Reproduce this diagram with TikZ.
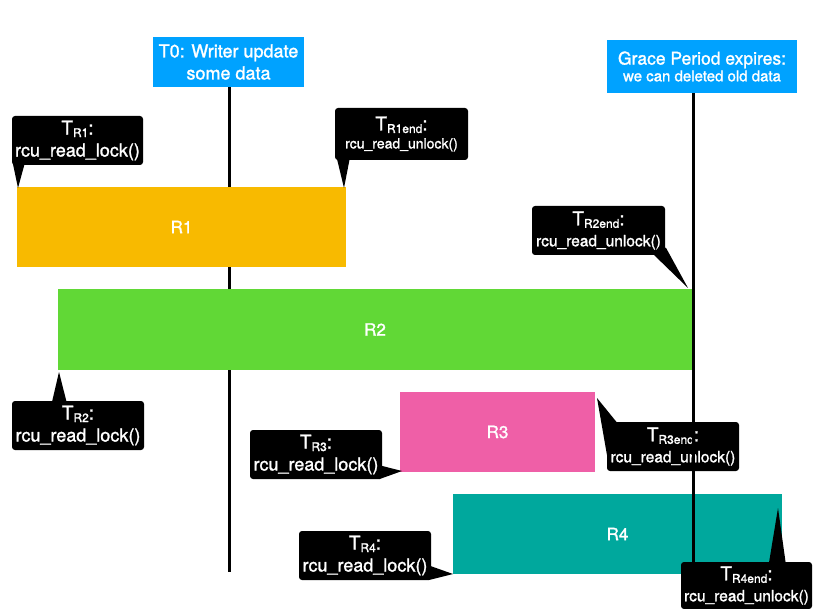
\documentclass[tikz,border=0pt]{standalone}
\usepackage{fontspec}
\setmainfont{TeX Gyre Heros}[FakeBold=1.4]
\usetikzlibrary{calc}
\definecolor{tblue}{RGB}{0,162,255}
\definecolor{rone}{RGB}{248,186,0}
\definecolor{rtwo}{RGB}{97,216,54}
\definecolor{rthree}{RGB}{239,95,167}
\definecolor{rfour}{RGB}{0,168,157}
\newcommand{\mytsub}[1]{{\fontsize{19}{19}\selectfont T}\raisebox{-2.5pt}{\fontsize{12}{12}\selectfont #1}{\fontsize{19}{19}\selectfont :}}
\tikzset{
  bar/.style={inner sep=0pt, text=white, font=\fontsize{17}{17}\selectfont},
  callout/.style={fill=black, text=white, rounded corners=3pt, inner sep=0pt, align=center},
  lockfont/.style={font=\fontsize{18}{22}\selectfont},
  unlockfont/.style={font=\fontsize{15.5}{21}\selectfont},
  topbox/.style={fill=tblue, text=white, inner sep=0pt, align=center},
  timeline/.style={line width=3pt, black},
  pointer/.style={fill=black}
}
\begin{document}
\begin{tikzpicture}[x=1pt,y=-1pt]
\useasboundingbox (0,0) rectangle (813,609);
% end points of the time lines
\coordinate (t0end) at (229,572);
\coordinate (gend) at (693,566);
% top boxes
\node[topbox, minimum width=151pt, minimum height=50pt, font=\fontsize{18}{22}\selectfont] (t0) at (228.5,62) {T0: Writer update\\some data};
\node[topbox, minimum width=190pt, minimum height=53pt] (grace) at (702,66.5) {{\fontsize{17.5}{20}\selectfont Grace Period expires:}\\[1pt]{\fontsize{15}{18}\selectfont we can deleted old data}};
% T0 line behind bars
\draw[timeline] (t0.south -| t0end) -- (t0end);
% bars
\node[bar, fill=rone, minimum width=329pt, minimum height=80pt] (r1) at (181.5,227) {R1};
\node[bar, fill=rtwo, minimum width=634pt, minimum height=81pt] (r2) at (375,329.5) {R2};
\node[bar, fill=rthree, minimum width=195pt, minimum height=80pt] (r3) at (497.5,432) {R3};
\node[bar, fill=rfour, minimum width=329pt, minimum height=80pt] (r4) at (617.5,534) {R4};
% tips
\coordinate (p1) at (18,188);
\coordinate (p1e) at (344,188);
\coordinate (p2) at (59,372);
\coordinate (p2e) at (688,288);
\coordinate (p3) at (402,471);
\coordinate (p3e) at (597,398);
\coordinate (p4) at (453,574);
\coordinate (p4e) at (778,508);
% callouts
\node[callout, lockfont, minimum width=131pt, minimum height=49pt] (tr1) at (77.5,140.5) {\mytsub{R1}\\rcu\_read\_lock()};
\fill[pointer] ($(tr1.south west)+(1,-2)$) -- ($(tr1.south west)+(13,-2)$) -- (p1) -- cycle;
\node[callout, font=\fontsize{14}{18}\selectfont, minimum width=133pt, minimum height=52pt] (tr1e) at (401.5,134) {\mytsub{R1end}\\rcu\_read\_unlock()};
\fill[pointer] ($(tr1e.south west)+(2,-2)$) -- ($(tr1e.south west)+(15,-2)$) -- (p1e) -- cycle;
\node[callout, unlockfont, minimum width=133pt, minimum height=49pt] (tr2e) at (598.5,230.5) {\mytsub{R2end}\\rcu\_read\_unlock()};
\fill[pointer] ($(tr2e.south east)+(-12,-1)$) -- (p2e) -- ($(tr2e.south east)+(1,-7)$) -- ($(tr2e.south east)+(-5,-10)$) -- cycle;
\node[callout, lockfont, minimum width=132pt, minimum height=49pt] (tr2) at (78,425.5) {\mytsub{R2}\\rcu\_read\_lock()};
\fill[pointer] ($(tr2.north west)+(40,2)$) -- ($(tr2.north west)+(55,2)$) -- (p2) -- cycle;
\node[callout, lockfont, minimum width=132pt, minimum height=49pt] (tr3) at (316,454.5) {\mytsub{R3}\\rcu\_read\_lock()};
\fill[pointer] ($(tr3.south east)+(-3,-14)$) -- (p3) -- ($(tr3.south east)+(-3,0)$) -- cycle;
\node[callout, lockfont, minimum width=132pt, minimum height=49pt] (tr4) at (365,555.5) {\mytsub{R4}\\rcu\_read\_lock()};
\fill[pointer] ($(tr4.south east)+(-3,-15)$) -- (p4) -- ($(tr4.south east)+(-3,0)$) -- cycle;
\node[callout, unlockfont, minimum width=132pt, minimum height=49pt] (tr3e) at (673,446.5) {\mytsub{R3end}\\rcu\_read\_unlock()};
\fill[pointer] (p3e) -- ($(tr3e.north west)+(12,3)$) -- ($(tr3e.north west)+(1,3)$) -- ($(tr3e.north west)+(1,38)$) -- cycle;
% grace period line
\draw[timeline] (grace.south -| gend) -- (gend);
\node[callout, unlockfont, minimum width=131pt, minimum height=47pt] (tr4e) at (746.5,585.5) {\mytsub{R4end}\\rcu\_read\_unlock()};
\fill[pointer] ($(tr4e.north west)+(88,2)$) -- (p4e) -- ($(tr4e.north west)+(105,2)$) -- cycle;
\end{tikzpicture}
\end{document}
